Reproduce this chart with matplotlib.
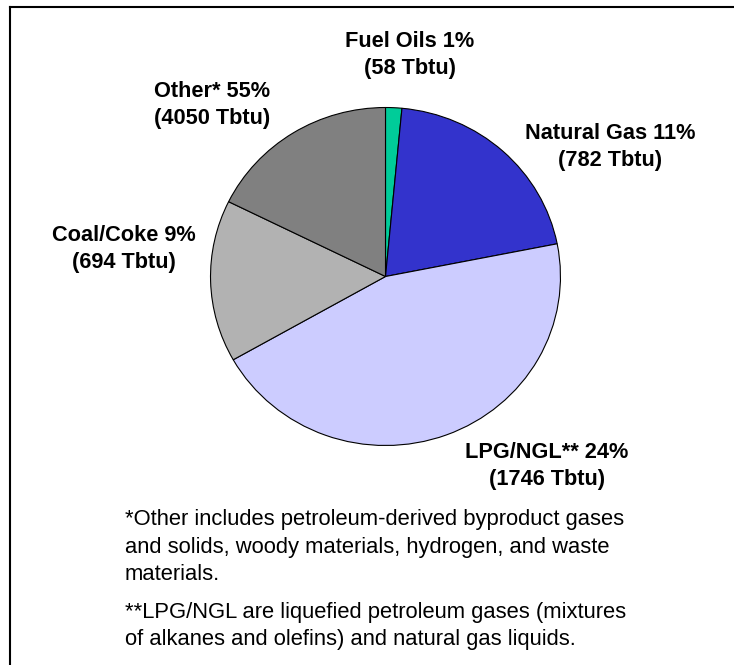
import matplotlib
matplotlib.use("Agg")
import matplotlib.pyplot as plt
from matplotlib.lines import Line2D

# slice shares as drawn in the picture (the printed percentages differ)
categories = ["Fuel Oils", "Natural Gas", "LPG/NGL", "Coal/Coke", "Other"]
shares = [1.5, 20.4, 44.9, 15.5, 17.7]
pct_labels = ["1%", "11%", "24%", "9%", "55%"]
tbtu = [58, 782, 1746, 694, 4050]
name_labels = ["Fuel Oils", "Natural Gas", "LPG/NGL**", "Coal/Coke", "Other*"]
colors = ["#00CC99", "#3333CC", "#CCCCFF", "#B2B2B2", "#808080"]

notes = [
    "*Other includes petroleum-derived byproduct gases\n"
    "and solids, woody materials, hydrogen, and waste\n"
    "materials.",
    "**LPG/NGL are liquefied petroleum gases (mixtures\n"
    "of alkanes and olefins) and natural gas liquids.",
]

W, H = 734, 665
fig = plt.figure(figsize=(W / 100, H / 100), dpi=100)
plt.rcParams["font.family"] = ["Liberation Sans", "DejaVu Sans"]

# pie box in pixels: x 210..561, y 107..446
ax = fig.add_axes([210 / W, 1 - 446 / H, 351 / W, 339 / H])
ax.pie(shares, colors=colors, startangle=90, counterclock=False,
       wedgeprops=dict(edgecolor="black", linewidth=0.8))
ax.set_aspect("auto")
ax.set_xlim(-1.003, 1.003)
ax.set_ylim(-1.003, 1.003)
ax.axis("off")

# label centre positions (pixels)
label_pos = [(410, 55), (610, 147), (547, 466), (124, 249), (212, 105)]
for name, pct, val, (px, py) in zip(name_labels, pct_labels, tbtu, label_pos):
    fig.text(px / W, 1 - py / H, f"{name} {pct}\n({val} Tbtu)",
             ha="center", va="center", fontsize=15.7, fontweight="bold",
             linespacing=1.33)

fig.text(125 / W, 1 - 547 / H, notes[0], ha="left", va="center",
         fontsize=15.8, linespacing=1.38)
fig.text(125 / W, 1 - 626 / H, notes[1], ha="left", va="center",
         fontsize=15.8, linespacing=1.38)

# frame: top and left edges only
fig.add_artist(Line2D([10 / W, 1], [1 - 7 / H, 1 - 7 / H], color="black", lw=1.5))
fig.add_artist(Line2D([10 / W, 10 / W], [0, 1 - 7 / H], color="black", lw=1.5))

fig.savefig("out.png", dpi=100)
